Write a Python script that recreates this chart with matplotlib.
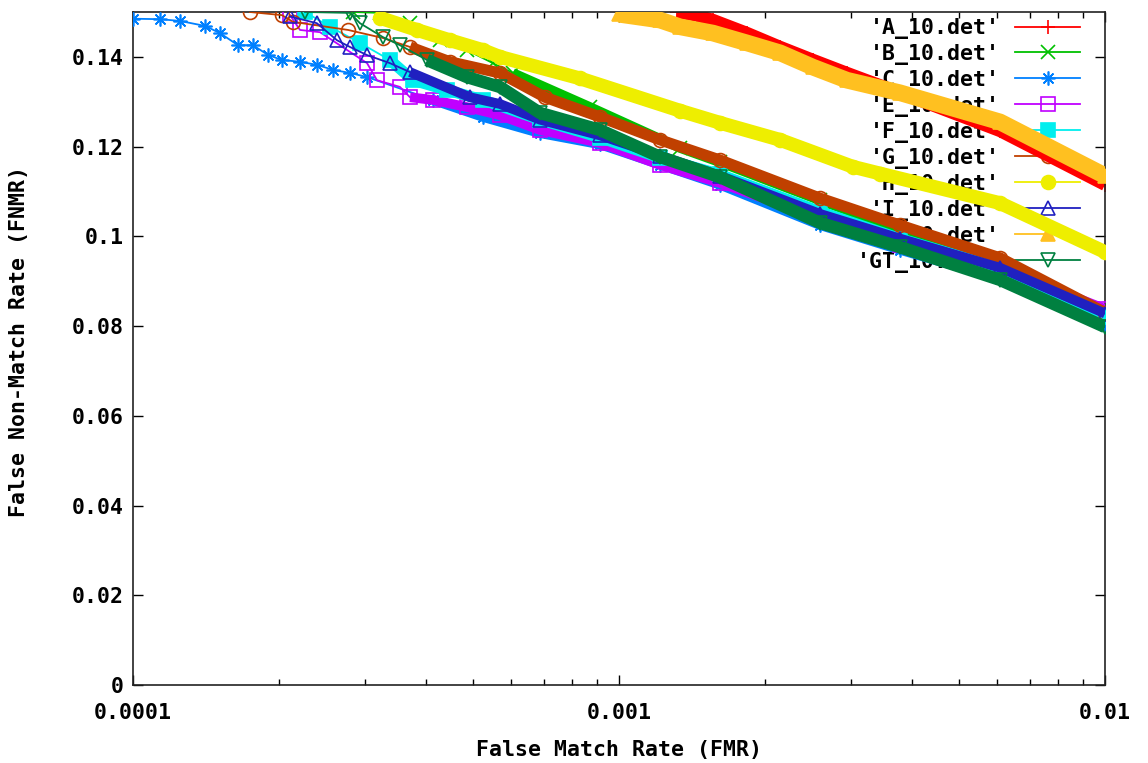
import numpy as np
import matplotlib
matplotlib.use("Agg")
import matplotlib.pyplot as plt
from matplotlib.ticker import FixedLocator, NullFormatter, FixedFormatter
from matplotlib.font_manager import FontProperties

# ---------------- data ----------------
A_fmr = [1.316e-3, 1.45e-3, 1.561e-3, 1.834e-3, 2.145e-3, 2.507e-3, 2.944e-3, 3.785e-3, 6.081e-3, 1.0e-2]
A_fnmr = [0.150, 0.1492, 0.1482, 0.1453, 0.1422, 0.1393, 0.1364, 0.132, 0.1235, 0.1115]

B_fmr = [2.836e-4, 3.222e-4, 3.715e-4, 4.281e-4, 4.865e-4, 5.503e-4, 6.05e-4, 8.72e-4, 1.335e-3,
         1.6137e-3, 2.5928e-3, 3.7851e-3, 6.081e-3, 1.0e-2]
B_fnmr = [0.150, 0.1498, 0.1475, 0.1437, 0.1415, 0.1386, 0.1364, 0.1288, 0.1197,
          0.1165, 0.108, 0.1015, 0.094, 0.081]

C_fmr = [1.0e-4, 1.137e-4, 1.25e-4, 1.406e-4, 1.51e-4, 1.644e-4, 1.766e-4, 1.897e-4, 2.027e-4,
         2.21e-4, 2.394e-4, 2.58e-4, 2.80e-4, 3.03e-4, 4.14e-4, 5.25e-4, 6.877e-4, 9.139e-4,
         1.2146e-3, 1.6137e-3, 2.5928e-3, 3.7851e-3, 6.081e-3, 1.0e-2]
C_fnmr = [0.1485, 0.1484, 0.148, 0.1469, 0.1453, 0.1426, 0.1426, 0.1404, 0.1393,
          0.1389, 0.1382, 0.1371, 0.1364, 0.1355, 0.1304, 0.1266, 0.123, 0.1205,
          0.116, 0.1115, 0.1025, 0.097, 0.0905, 0.080]

E_fmr = [2.104e-4, 2.206e-4, 2.425e-4, 3.031e-4, 3.177e-4, 3.542e-4, 3.715e-4, 4.141e-4, 4.865e-4,
         5.688e-4, 6.877e-4, 9.139e-4, 1.2146e-3, 1.6137e-3, 2.5928e-3, 3.7851e-3, 6.081e-3, 1.0e-2]
E_fnmr = [0.1493, 0.146, 0.1455, 0.1386, 0.1348, 0.1333, 0.131, 0.1304, 0.1288,
          0.127, 0.1237, 0.1208, 0.1159, 0.1119, 0.104, 0.098, 0.093, 0.0838]

F_fmr = [2.259e-4, 2.543e-4, 2.931e-4, 3.378e-4, 3.768e-4, 4.425e-4, 5.25e-4, 6.877e-4, 9.139e-4,
         1.2146e-3, 1.6137e-3, 2.5928e-3, 3.7851e-3, 6.081e-3, 1.0e-2]
F_fnmr = [0.150, 0.1467, 0.1431, 0.1393, 0.1348, 0.1326, 0.1304, 0.126, 0.122,
          0.1175, 0.1138, 0.1055, 0.0995, 0.093, 0.082]

G_fmr = [1.74e-4, 2.025e-4, 2.134e-4, 2.77e-4, 3.268e-4, 3.715e-4, 4.489e-4, 5.688e-4, 7.042e-4,
         9.139e-4, 1.2146e-3, 1.6137e-3, 2.5928e-3, 3.7851e-3, 6.081e-3, 1.0e-2]
G_fnmr = [0.150, 0.1493, 0.1478, 0.146, 0.1442, 0.1422, 0.1389, 0.1364, 0.131,
          0.1266, 0.1215, 0.117, 0.1085, 0.1025, 0.0952, 0.083]

H_fmr = [3.222e-4, 3.840e-4, 4.489e-4, 5.25e-4, 5.688e-4, 8.314e-4, 1.335e-3, 1.6137e-3, 2.145e-3,
         3.030e-3, 3.4435e-3, 6.081e-3, 1.0e-2]
H_fnmr = [0.1487, 0.146, 0.1437, 0.1415, 0.140, 0.1352, 0.128, 0.1253, 0.1215,
          0.1155, 0.114, 0.1074, 0.0965]

I_fmr = [2.104e-4, 2.39e-4, 2.629e-4, 2.796e-4, 3.031e-4, 3.378e-4, 3.715e-4, 4.935e-4, 5.688e-4,
         6.877e-4, 9.139e-4, 1.2146e-3, 1.6137e-3, 2.5928e-3, 3.7851e-3, 6.081e-3, 1.0e-2]
I_fnmr = [0.149, 0.1475, 0.1437, 0.1422, 0.1404, 0.1386, 0.1366, 0.131, 0.1295,
          0.126, 0.1225, 0.118, 0.1135, 0.105, 0.0995, 0.093, 0.0828]

J_fmr = [1.0e-3, 1.2146e-3, 1.335e-3, 1.561e-3, 1.834e-3, 2.145e-3, 2.507e-3, 2.944e-3, 3.785e-3,
         6.081e-3, 1.0e-2]
J_fnmr = [0.1495, 0.1482, 0.1467, 0.1453, 0.1431, 0.1409, 0.1377, 0.1348, 0.132,
          0.1255, 0.1135]

GT_fmr = [2.259e-4, 2.796e-4, 2.931e-4, 3.268e-4, 3.542e-4, 4.025e-4, 4.865e-4, 5.688e-4, 6.877e-4,
          9.139e-4, 1.2146e-3, 1.6137e-3, 2.5928e-3, 3.7851e-3, 6.081e-3, 1.0e-2]
GT_fnmr = [0.150, 0.1498, 0.1475, 0.1444, 0.1426, 0.1393, 0.1355, 0.1333, 0.1275,
           0.1237, 0.1177, 0.1132, 0.103, 0.0976, 0.0903, 0.0798]

series_labels = ["'A_10.det'", "'B_10.det'", "'C_10.det'", "'E_10.det'", "'F_10.det'",
                 "'G_10.det'", "'H_10.det'", "'I_10.det'", "'J_10.det'", "'GT_10.det'"]
series_x = [A_fmr, B_fmr, C_fmr, E_fmr, F_fmr, G_fmr, H_fmr, I_fmr, J_fmr, GT_fmr]
series_y = [A_fnmr, B_fnmr, C_fnmr, E_fnmr, F_fnmr, G_fnmr, H_fnmr, I_fnmr, J_fnmr, GT_fnmr]

x_ticks = [1e-4, 1e-3, 1e-2]
x_tick_labels = ["0.0001", "0.001", "0.01"]
y_ticks = [0, 0.02, 0.04, 0.06, 0.08, 0.1, 0.12, 0.14]
y_tick_labels = ["0", "0.02", "0.04", "0.06", "0.08", "0.1", "0.12", "0.14"]

# ---------------- styles ----------------
colors = ["#ff0000", "#00c000", "#0080ff", "#c000ff", "#00eeee",
          "#c04000", "#eeee00", "#2020c0", "#ffc020", "#008040"]
asterisk = (8, 2, 0)
markers = ["+", "x", asterisk, "s", "s", "o", "o", "^", "^", "v"]
filled = [True, True, True, False, True, False, True, False, True, False]
band_from = [0, 6.0e-4, 3.5e-4, 3.6e-4, 3.0e-4, 3.6e-4, 0, 3.6e-4, 0, 3.6e-4]
band_lw = [9, 7, 7, 7, 8, 8, 10, 7, 12, 9]

font = FontProperties(family="DejaVu Sans Mono", weight="bold", size=15.5)

fig = plt.figure(figsize=(11.48, 7.63), dpi=100)
ax = fig.add_axes([133 / 1148, 1 - 685 / 763, 972 / 1148, 673 / 763])

for i, (xs, ys) in enumerate(zip(series_x, series_y)):
    c = colors[i]
    xs_a = np.asarray(xs)
    ys_a = np.asarray(ys)
    sel = xs_a >= band_from[i]
    ax.plot(xs_a[sel], ys_a[sel], color=c, lw=band_lw[i], solid_capstyle="butt",
            solid_joinstyle="round", zorder=2 + i)
    ax.plot(xs_a, ys_a, color=c, lw=1.3, marker=markers[i], markersize=10,
            markeredgewidth=1.2, markerfacecolor=c if filled[i] else "none",
            markeredgecolor=c, label=series_labels[i], zorder=2 + i + 0.5)

ax.set_xscale("log")
ax.set_xlim(1e-4, 1e-2)
ax.set_ylim(0, 0.15)

ax.xaxis.set_major_locator(FixedLocator(x_ticks))
ax.xaxis.set_major_formatter(FixedFormatter(x_tick_labels))
minor = [m * 10.0 ** e for e in (-4, -3) for m in range(2, 10)]
ax.xaxis.set_minor_locator(FixedLocator(minor))
ax.xaxis.set_minor_formatter(NullFormatter())
ax.yaxis.set_major_locator(FixedLocator(y_ticks))
ax.yaxis.set_major_formatter(FixedFormatter(y_tick_labels))

ax.tick_params(which="both", direction="in", top=True, right=True, color="black")
ax.tick_params(which="major", length=7, width=1)
ax.tick_params(which="minor", length=4, width=1)
ax.tick_params(axis="x", which="major", pad=13)
ax.tick_params(axis="y", which="major", pad=7)
for lab in ax.get_xticklabels() + ax.get_yticklabels():
    lab.set_fontproperties(font)

for sp in ax.spines.values():
    sp.set_linewidth(1.2)
    sp.set_color("#222222")

ax.set_xlabel("False Match Rate (FMR)", fontproperties=font, va="top")
ax.xaxis.set_label_coords(0.5, -0.082)
ax.set_ylabel("False Non-Match Rate (FNMR)", fontproperties=font)
ax.yaxis.set_label_coords(-0.107, 0.51)

leg = ax.legend(loc="upper right", bbox_to_anchor=((1080 - 133) / 972, 0.991),
                frameon=False, markerfirst=False, prop=font, handlelength=3.0,
                handletextpad=0.7, labelspacing=0.23, borderpad=0, borderaxespad=0)
leg.set_zorder(1)

fig.savefig("out.png", dpi=100)
